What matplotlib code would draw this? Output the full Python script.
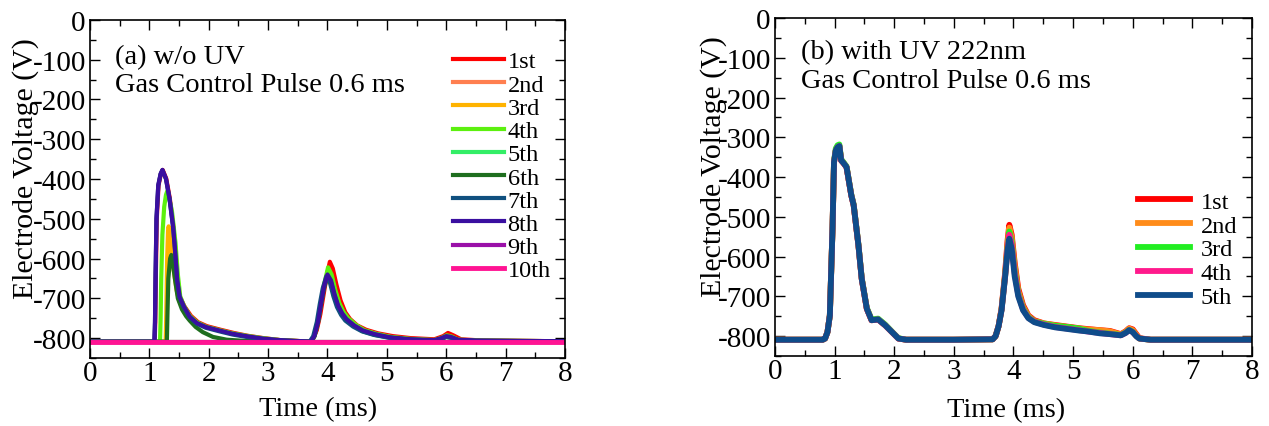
import matplotlib
matplotlib.use("Agg")
import matplotlib.pyplot as plt
from matplotlib.ticker import MultipleLocator

plt.rcParams['font.family'] = ['Liberation Serif', 'DejaVu Serif']
plt.rcParams['axes.unicode_minus'] = False

# ---------------- Panel (a): w/o UV ----------------
labels_a = ['1st', '2nd', '3rd', '4th', '5th', '6th', '7th', '8th', '9th', '10th']
colors_a = ['#ff0000', '#ff7f50', '#ffb300', '#5cf00f', '#33ee66',
            '#1e6e1e', '#10507f', '#3a0fa0', '#9a10a8', '#ff1493']

t_a1 = [0, 1.09, 1.10, 1.11, 1.125, 1.155, 1.195, 1.225, 1.285, 1.345, 1.405, 1.435, 1.475, 1.515, 1.59, 1.70, 1.82, 1.97, 2.20, 2.42, 2.65, 2.92, 3.20, 3.74, 3.82, 3.88, 3.93, 3.98, 4.04, 4.09, 4.15, 4.22, 4.30, 4.38, 4.50, 4.65, 4.85, 5.10, 5.40, 5.80, 5.95, 6.03, 6.12, 6.25, 6.60, 8.00]
v_a1 = [-809, -809, -760, -640, -500, -416, -387, -377, -399, -449, -520, -573, -655, -696, -720, -744, -760, -770, -779, -787, -794, -800, -805, -809, -780, -740, -695, -650, -608, -625, -665, -705, -735, -752, -768, -779, -788, -795, -800, -803, -795, -787, -793, -803, -806, -808]

t_a2 = [0, 8.00]
v_a2 = [-809, -809]

t_a3 = [0, 1.275, 1.285, 1.30, 1.315, 1.325, 1.34, 1.37, 1.41, 1.46, 1.50, 1.54, 1.60, 1.70, 1.82, 1.97, 2.18, 2.40, 2.63, 2.90, 3.20, 3.72, 3.78, 3.84, 3.89, 3.94, 4.01, 4.07, 4.13, 4.20, 4.27, 4.35, 4.48, 4.62, 4.82, 5.07, 5.40, 5.80, 5.93, 6.01, 6.09, 6.20, 6.50, 8.00]
v_a3 = [-809, -809, -740, -600, -530, -519, -535, -580, -630, -680, -705, -718, -728, -748, -763, -773, -781, -789, -795, -801, -805, -809, -795, -760, -714, -670, -630, -648, -684, -716, -737, -752, -768, -781, -790, -798, -803, -805, -800, -795, -797, -804, -806, -808]

t_a4 = [0, 1.18, 1.19, 1.20, 1.22, 1.25, 1.28, 1.30, 1.33, 1.38, 1.44, 1.48, 1.52, 1.58, 1.68, 1.80, 1.95, 2.18, 2.40, 2.63, 2.90, 3.20, 3.72, 3.78, 3.84, 3.89, 3.94, 4.01, 4.07, 4.13, 4.20, 4.27, 4.35, 4.48, 4.62, 4.82, 5.07, 5.40, 5.80, 5.93, 6.01, 6.09, 6.20, 6.50, 8.00]
v_a4 = [-809, -809, -750, -650, -540, -470, -440, -431, -445, -480, -560, -640, -695, -718, -744, -760, -771, -780, -788, -794, -800, -805, -809, -795, -758, -712, -668, -622, -640, -678, -712, -734, -750, -767, -780, -789, -797, -802, -805, -799, -793, -796, -804, -806, -808]

t_a5 = [0, 8.00]
v_a5 = [-809, -809]

t_a6 = [0, 1.295, 1.305, 1.32, 1.35, 1.37, 1.39, 1.43, 1.48, 1.55, 1.62, 1.68, 1.78, 1.90, 2.07, 2.30, 2.60, 3.72, 3.78, 3.84, 3.89, 3.94, 4.00, 4.06, 4.12, 4.18, 4.25, 4.32, 4.45, 4.60, 4.80, 5.05, 5.40, 5.80, 5.92, 6.00, 6.08, 6.20, 6.50, 8.00]
v_a6 = [-809, -809, -740, -650, -600, -591, -605, -650, -700, -728, -745, -756, -772, -785, -797, -804, -807, -809, -796, -762, -718, -676, -645, -660, -694, -721, -741, -755, -770, -783, -792, -799, -804, -806, -802, -797, -799, -805, -807, -808]

t_a7 = [0, 1.085, 1.095, 1.105, 1.12, 1.15, 1.19, 1.22, 1.28, 1.34, 1.40, 1.43, 1.47, 1.51, 1.58, 1.68, 1.80, 1.95, 2.18, 2.40, 2.63, 2.90, 3.20, 3.70, 3.76, 3.82, 3.87, 3.92, 3.98, 4.04, 4.10, 4.16, 4.23, 4.30, 4.43, 4.58, 4.78, 5.03, 5.40, 5.80, 5.92, 6.00, 6.08, 6.20, 6.50, 8.00]
v_a7 = [-809, -809, -760, -640, -500, -416, -387, -378, -400, -450, -521, -575, -657, -698, -722, -748, -764, -774, -783, -791, -797, -802, -806, -809, -795, -760, -715, -675, -645, -660, -695, -722, -742, -756, -771, -783, -792, -799, -804, -806, -802, -797, -799, -805, -807, -808]

t_a8 = [0, 1.085, 1.095, 1.105, 1.12, 1.15, 1.19, 1.22, 1.28, 1.34, 1.40, 1.43, 1.47, 1.51, 1.58, 1.68, 1.80, 1.95, 2.18, 2.40, 2.63, 2.90, 3.20, 3.72, 3.78, 3.84, 3.89, 3.94, 4.00, 4.06, 4.12, 4.18, 4.25, 4.32, 4.45, 4.60, 4.80, 5.05, 5.40, 5.80, 5.92, 6.00, 6.08, 6.20, 6.50, 8.00]
v_a8 = [-809, -809, -760, -640, -500, -416, -387, -377, -399, -449, -520, -573, -655, -696, -720, -746, -762, -772, -781, -789, -795, -801, -805, -809, -795, -760, -715, -672, -640, -655, -690, -718, -738, -752, -768, -781, -790, -798, -803, -805, -800, -795, -797, -804, -806, -808]

t_a9 = [0, 8.00]
v_a9 = [-809, -809]

t_a10 = [0, 8.00]
v_a10 = [-809, -809]

# ---------------- Panel (b): with UV 222nm ----------------
labels_b = ['1st', '2nd', '3rd', '4th', '5th']
colors_b = ['#ff0000', '#ff8c1a', '#22ee22', '#ff1a8c', '#0f4c8a']

t_b = [0, 0.80, 0.84, 0.88, 0.92, 0.965, 0.99, 1.02, 1.05, 1.08, 1.11, 1.15, 1.20, 1.28, 1.32, 1.40, 1.455, 1.54, 1.62, 1.73, 1.85, 1.99, 2.07, 2.20, 3.00, 3.65, 3.70, 3.75, 3.80, 3.86, 3.90, 3.93, 3.97, 4.02, 4.08, 4.16, 4.25, 4.35, 4.51, 4.70, 4.90, 5.10, 5.23, 5.45, 5.62, 5.80, 5.88, 5.94, 6.00, 6.06, 6.11, 6.30, 7.00, 8.00]
v_b1 = [-809, -809, -806, -790, -748, -530, -363, -333, -325, -322, -358, -365, -375, -446, -471, -572, -656, -731, -760, -758, -773, -794, -806, -809, -809, -808, -800, -775, -730, -640, -560, -520, -545, -615, -680, -722, -748, -760, -768, -772, -776, -780, -782, -785, -787, -795, -788, -780, -783, -795, -805, -809, -809, -809]
v_b2 = [-809, -809, -806, -790, -748, -530, -363, -333, -325, -322, -358, -365, -375, -446, -471, -572, -656, -731, -760, -758, -773, -794, -806, -809, -809, -808, -800, -775, -732, -645, -570, -527, -552, -622, -686, -726, -750, -762, -768, -773, -777, -781, -783, -785, -788, -796, -789, -781, -785, -797, -806, -809, -809, -809]
v_b3 = [-809, -809, -806, -790, -748, -530, -360, -328, -320, -318, -355, -363, -373, -444, -469, -570, -654, -729, -758, -756, -771, -793, -805, -809, -809, -808, -800, -775, -733, -648, -578, -537, -563, -635, -692, -730, -752, -763, -769, -774, -777, -781, -786, -791, -794, -797, -791, -784, -789, -800, -806, -809, -809, -809]
v_b4 = [-809, -809, -806, -790, -748, -530, -363, -333, -325, -322, -358, -365, -375, -446, -471, -572, -656, -731, -760, -758, -773, -794, -806, -809, -809, -808, -800, -775, -734, -650, -582, -545, -570, -642, -696, -733, -754, -764, -771, -777, -781, -785, -788, -792, -795, -798, -792, -785, -790, -800, -806, -809, -809, -809]
v_b5 = [-809, -809, -806, -790, -748, -530, -363, -333, -325, -322, -358, -365, -375, -446, -471, -572, -656, -731, -760, -758, -773, -794, -806, -809, -809, -808, -800, -775, -735, -650, -585, -555, -580, -650, -700, -735, -755, -765, -772, -778, -782, -786, -788, -793, -795, -798, -792, -785, -790, -800, -806, -809, -809, -809]

series_a = [(t_a1, v_a1), (t_a2, v_a2), (t_a3, v_a3), (t_a4, v_a4), (t_a5, v_a5),
            (t_a6, v_a6), (t_a7, v_a7), (t_a8, v_a8), (t_a9, v_a9), (t_a10, v_a10)]
series_b = [v_b1, v_b2, v_b3, v_b4, v_b5]

fig = plt.figure(figsize=(12.69, 4.27), dpi=100)
axA = fig.add_axes([0.0709, 0.1593, 0.3743, 0.7916])
axB = fig.add_axes([0.6107, 0.1639, 0.3759, 0.7916])


def style(ax):
    ax.set_xlim(0, 8)
    ax.set_ylim(-850, 0)
    ax.xaxis.set_major_locator(MultipleLocator(1))
    ax.xaxis.set_minor_locator(MultipleLocator(0.5))
    ax.yaxis.set_major_locator(MultipleLocator(100))
    ax.yaxis.set_minor_locator(MultipleLocator(50))
    ax.tick_params(which='both', direction='in', top=True, right=True,
                   labelsize=21, width=1.0, colors='black')
    ax.tick_params(which='major', length=7)
    ax.tick_params(which='minor', length=4)
    ax.tick_params(axis='x', pad=1.5)
    ax.tick_params(axis='y', pad=3)
    for s in ax.spines.values():
        s.set_linewidth(1.2)
    ax.set_xlabel('Time (ms)', fontsize=20.5)
    ax.set_ylabel('Electrode Voltage (V)', fontsize=21.5)


style(axA)
style(axB)

for (t, v), c, lab in zip(series_a, colors_a, labels_a):
    axA.plot(t, v, color=c, lw=3.0 if lab != '10th' else 3.5, label=lab,
             solid_joinstyle='round')

for v, c, lab in zip(series_b, colors_b, labels_b):
    axB.plot(t_b, v, color=c, lw=4.2, label=lab, solid_joinstyle='round')

axA.xaxis.set_label_coords(0.48, -0.112)
axA.yaxis.set_label_coords(-0.108, 0.562)
axB.xaxis.set_label_coords(0.484, -0.121)
axB.yaxis.set_label_coords(-0.100, 0.562)

axA.text(0.053, 0.893, '(a) w/o UV', transform=axA.transAxes, fontsize=20.5,
         ha='left', va='center')
axA.text(0.053, 0.808, 'Gas Control Pulse 0.6 ms', transform=axA.transAxes,
         fontsize=20.5, ha='left', va='center')
axB.text(0.054, 0.902, '(b) with UV 222nm', transform=axB.transAxes, fontsize=20.5,
         ha='left', va='center')
axB.text(0.054, 0.814, 'Gas Control Pulse 0.6 ms', transform=axB.transAxes,
         fontsize=20.5, ha='left', va='center')

axA.legend(loc='upper left', bbox_to_anchor=(0.764, 0.910), frameon=False,
           fontsize=17.5, handlelength=2.1, handletextpad=0.15,
           labelspacing=0.05, borderpad=0, borderaxespad=0)
axB.legend(loc='upper left', bbox_to_anchor=(0.761, 0.489), frameon=False,
           fontsize=17.5, handlelength=2.15, handletextpad=0.42,
           labelspacing=0.075, borderpad=0, borderaxespad=0)

fig.savefig('out.png', dpi=100)
